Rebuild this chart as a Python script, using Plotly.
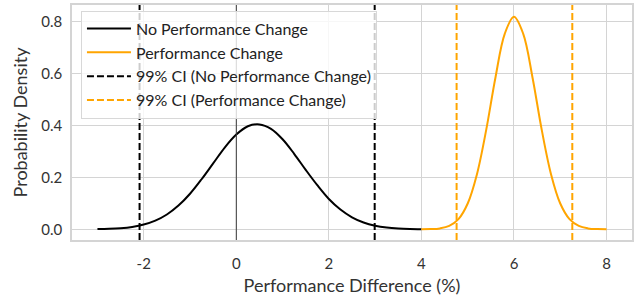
import plotly.graph_objects as go

# Data
x_no_change = [-3.0, -2.75, -2.5, -2.25, -2.0, -1.75, -1.5, -1.25, -1.0, -0.75, -0.5, -0.25,
               0.0, 0.25, 0.5, 0.75, 1.0, 1.25, 1.5, 1.75, 2.0, 2.25, 2.5, 2.75, 3.0, 3.25,
               3.5, 3.75, 4.0]
y_no_change = [0.0009, 0.0021, 0.0046, 0.0095, 0.0184, 0.0334, 0.0571, 0.0914, 0.137, 0.193,
               0.254, 0.315, 0.365, 0.397, 0.404, 0.387, 0.347, 0.291, 0.229, 0.170, 0.117,
               0.0763, 0.0465, 0.0265, 0.0142, 0.0071, 0.0034, 0.0015, 0.0006]

x_change = [4.0, 4.2, 4.4, 4.6, 4.8, 5.0, 5.2, 5.4, 5.6, 5.8, 6.0, 6.2, 6.4, 6.6, 6.8, 7.0,
            7.2, 7.4, 7.6, 7.8, 8.0]
y_change = [0.0002, 0.0009, 0.0037, 0.0131, 0.0393, 0.0995, 0.2125, 0.383, 0.585, 0.753,
            0.819, 0.753, 0.585, 0.383, 0.2125, 0.0995, 0.0393, 0.0131, 0.0037, 0.0009, 0.0002]

ci_no_change = [-2.09, 2.99]
ci_change = [4.76, 7.26]
zero_line = 0.0

x_ticks = [-2, 0, 2, 4, 6, 8]
y_ticks = [0.0, 0.2, 0.4, 0.6, 0.8]

BLACK = "#000000"
ORANGE = "#FFA500"
GRID = "#d4d4d4"
FONT = "Lato"

fig = go.Figure()
fig.add_trace(go.Scatter(x=x_no_change, y=y_no_change, mode="lines", line_shape="spline",
                         line=dict(color=BLACK, width=2), name="No Performance Change",
                         legendrank=1))
fig.add_trace(go.Scatter(x=x_change, y=y_change, mode="lines", line_shape="spline",
                         line=dict(color=ORANGE, width=2), name="Performance Change",
                         legendrank=2))

fig.add_shape(type="line", x0=zero_line, x1=zero_line, y0=0, y1=1, yref="y domain",
              line=dict(color="#3a3a3a", width=1), layer="above")

for i, v in enumerate(ci_no_change):
    fig.add_shape(type="line", x0=v, x1=v, y0=0, y1=1, yref="y domain",
                  line=dict(color=BLACK, width=2, dash="7px,3px"),
                  name="99% CI (No Performance Change)", showlegend=(i == 0),
                  legendgroup="ci0", legendrank=3)
for i, v in enumerate(ci_change):
    fig.add_shape(type="line", x0=v, x1=v, y0=0, y1=1, yref="y domain",
                  line=dict(color=ORANGE, width=2, dash="7px,3px"),
                  name="99% CI (Performance Change)", showlegend=(i == 0),
                  legendgroup="ci1", legendrank=4)

axis_common = dict(showgrid=True, gridcolor=GRID, gridwidth=1.2, zeroline=False,
                   showline=True, linecolor=GRID, linewidth=1.5, mirror=True,
                   ticks="", automargin=False,
                   tickfont=dict(family=FONT, size=15, color="#333333"),
                   title_font=dict(family=FONT, size=18, color="#333333"))

fig.update_xaxes(range=[-3.55, 8.55], tickvals=x_ticks, ticktext=[str(t) for t in x_ticks],
                 title_text="Performance Difference (%)", title_standoff=9,
                 ticklabelstandoff=9, **axis_common)
fig.update_yaxes(range=[-0.041, 0.864], tickvals=y_ticks,
                 ticktext=[f"{t:.1f}" for t in y_ticks],
                 title_text="Probability Density", title_standoff=9,
                 ticklabelstandoff=5, **axis_common)

fig.update_layout(
    width=638, height=299,
    margin=dict(l=72, r=6, t=5, b=59, autoexpand=False),
    plot_bgcolor="white", paper_bgcolor="white",
    font=dict(family=FONT, size=16, color="#333333"),
    showlegend=True,
    legend=dict(x=0.016, y=0.976, xanchor="left", yanchor="top",
                bgcolor="rgba(255,255,255,0.8)", bordercolor="#d8d8d8", borderwidth=1,
                font=dict(family=FONT, size=16, color="#222222"),
                itemwidth=44, tracegroupgap=0),
)

fig.write_html("out.html", config={"displayModeBar": False},
               post_script="document.body.style.margin='0';")
